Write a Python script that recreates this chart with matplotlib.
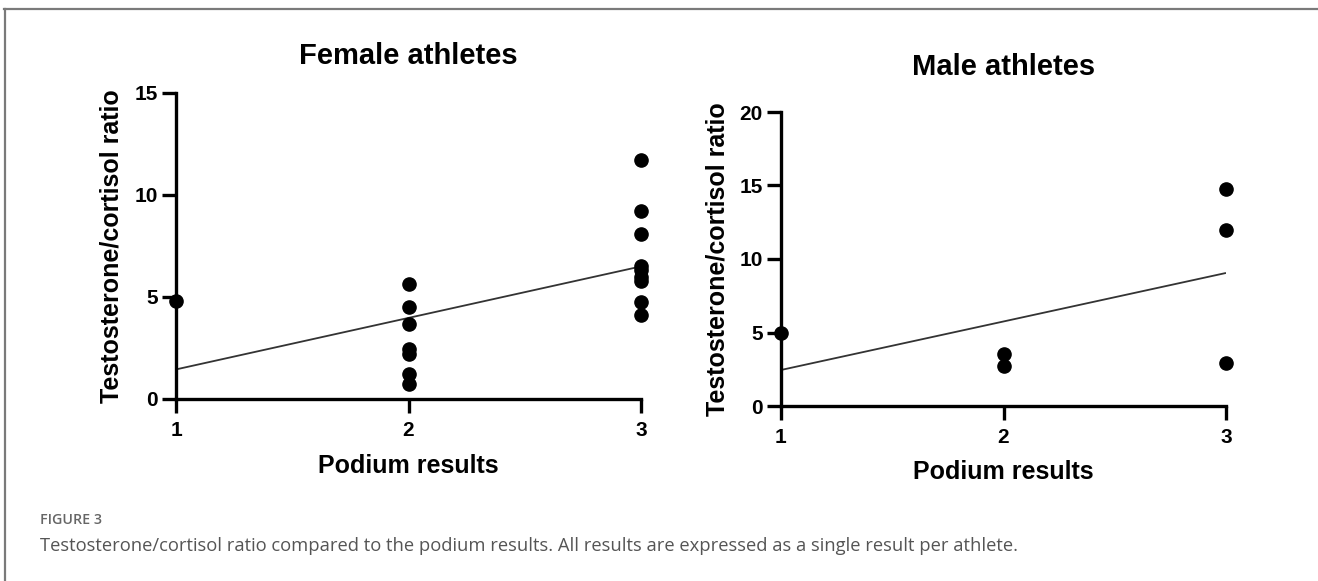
import matplotlib
matplotlib.use("Agg")
import matplotlib.pyplot as plt
from matplotlib.lines import Line2D

# Podium place (x) and testosterone/cortisol ratio (y), one point per athlete
female_place = [1, 2, 2, 2, 2, 2, 2, 2, 3, 3, 3, 3, 3, 3, 3, 3, 3]
female_ratio = [4.8, 5.62, 4.5, 3.7, 2.45, 2.2, 1.25, 0.75,
                11.7, 9.2, 8.1, 6.5, 6.3, 6.0, 5.8, 4.75, 4.1]
female_fit_x = [1, 3]
female_fit_y = [1.45, 6.5]

male_place = [1, 2, 2, 3, 3, 3]
male_ratio = [5.0, 3.55, 2.7, 14.75, 11.95, 2.95]
male_fit_x = [1, 3]
male_fit_y = [2.45, 9.05]

x_ticks = [1, 2, 3]
female_yticks = [0, 5, 10, 15]
male_yticks = [0, 5, 10, 15, 20]

W, H = 1318, 581
fig = plt.figure(figsize=(W / 100, H / 100), dpi=100)

bold = dict(family=["Liberation Sans", "DejaVu Sans"], weight="bold")


def px_axes(x0, x1, y_top, y_bottom):
    return fig.add_axes([x0 / W, 1 - y_bottom / H, (x1 - x0) / W, (y_bottom - y_top) / H])


def panel(ax, xs, ys, fx, fy, yticks, title, title_y, xlabel_y, ylabel_x):
    ax.set_xlim(1, 3)
    ax.set_ylim(0, yticks[-1])
    for side in ("top", "right"):
        ax.spines[side].set_visible(False)
    for side in ("left", "bottom"):
        ax.spines[side].set_linewidth(2.4)
        ax.spines[side].set_capstyle("projecting")
    ax.set_xticks(x_ticks)
    ax.set_yticks(yticks)
    ax.tick_params(axis="both", length=10, width=2.4, labelsize=15, pad=3)
    ax.tick_params(axis="x", pad=6)
    for lab in ax.get_xticklabels() + ax.get_yticklabels():
        lab.set_fontfamily(bold["family"])
        lab.set_fontweight("bold")
    ax.plot(fx, fy, color="#333333", lw=1.3, solid_capstyle="butt")
    ax.plot(xs, ys, "o", color="black", ms=9.5, clip_on=False, zorder=5)
    bb = ax.get_position()
    cx = (bb.x0 + bb.x1) / 2
    fig.text(cx, 1 - title_y / H, title, ha="center", va="center", fontsize=21, **bold)
    fig.text(cx, 1 - xlabel_y / H, "Podium results", ha="center", va="center", fontsize=18, **bold)
    fig.text(ylabel_x / W, (bb.y0 + bb.y1) / 2, "Testosterone/cortisol ratio", rotation=90,
             ha="center", va="center", fontsize=18, **bold)


ax1 = px_axes(176, 641, 93, 399)
panel(ax1, female_place, female_ratio, female_fit_x, female_fit_y, female_yticks,
      "Female athletes", 56, 466, 112)

ax2 = px_axes(781, 1226, 112, 406)
panel(ax2, male_place, male_ratio, male_fit_x, male_fit_y, male_yticks,
      "Male athletes", 67, 472, 718)

# Outer frame lines (top and left)
fig.add_artist(Line2D([4 / W, 1], [1 - 8.5 / H, 1 - 8.5 / H], color="#7a7a7a", lw=1.6))
fig.add_artist(Line2D([4.5 / W, 4.5 / W], [0, 1 - 8.5 / H], color="#7a7a7a", lw=1.6))

cap = ["Open Sans", "DejaVu Sans"]
fig.text(40 / W, 1 - 520 / H, "FIGURE 3", ha="left", va="center", fontsize=10.3,
         color="#666666", family=cap, weight="semibold")
fig.text(40 / W, 1 - 546 / H,
         "Testosterone/cortisol ratio compared to the podium results. "
         "All results are expressed as a single result per athlete.",
         ha="left", va="center", fontsize=13.2, color="#555555", family=cap)

fig.savefig("out.png", dpi=100)
